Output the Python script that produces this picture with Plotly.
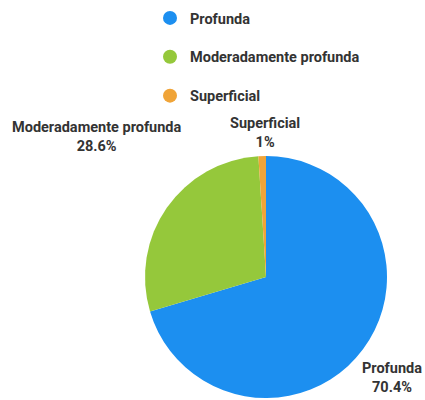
import plotly.graph_objects as go

labels = ["Profunda", "Moderadamente profunda", "Superficial"]
values = [70.4, 28.6, 1.0]
pct_text = ["70.4%", "28.6%", "1%"]
colors = ["#1C8FF0", "#95C83B", "#F0A438"]

W, H = 425, 400


def px(x):
    return x / W


def py(y):
    return 1 - y / H


fig = go.Figure()
fig.add_trace(go.Pie(
    labels=labels, values=values, sort=False, direction="clockwise", rotation=0,
    marker=dict(colors=colors, line=dict(width=0)),
    textinfo="none", hoverinfo="label+percent", showlegend=False,
    domain=dict(x=[px(145), px(387)], y=[py(398), py(156)]),
))

for i, lab in enumerate(labels):
    fig.add_trace(go.Scatter(
        x=[None], y=[None], mode="markers", name=lab, legendgroup=lab,
        marker=dict(symbol="circle", size=14, color=colors[i]),
    ))

label_pos = [(392, 378), (97, 137), (265, 133)]
annotations = []
for i, lab in enumerate(labels):
    lx, ly = label_pos[i]
    annotations.append(dict(
        x=px(lx), y=py(ly), xref="paper", yref="paper",
        text=f"<b>{lab}<br>{pct_text[i]}</b>", showarrow=False,
        font=dict(family="Roboto", size=14.5, color="#333333"),
        xanchor="center", yanchor="middle", align="center",
    ))

fig.update_layout(
    width=W, height=H, margin=dict(l=0, r=0, t=0, b=0),
    paper_bgcolor="white", plot_bgcolor="white",
    xaxis=dict(visible=False), yaxis=dict(visible=False),
    legend=dict(x=px(150), y=0.995, xanchor="left", yanchor="top",
                font=dict(family="Roboto", size=14.5, color="#333333", weight="bold"),
                tracegroupgap=17, itemwidth=30),
    annotations=annotations,
)
fig.write_html(
    "out.html",
    config={"displayModeBar": False},
    post_script="document.body.style.margin='0';document.body.style.overflow='hidden';",
)
